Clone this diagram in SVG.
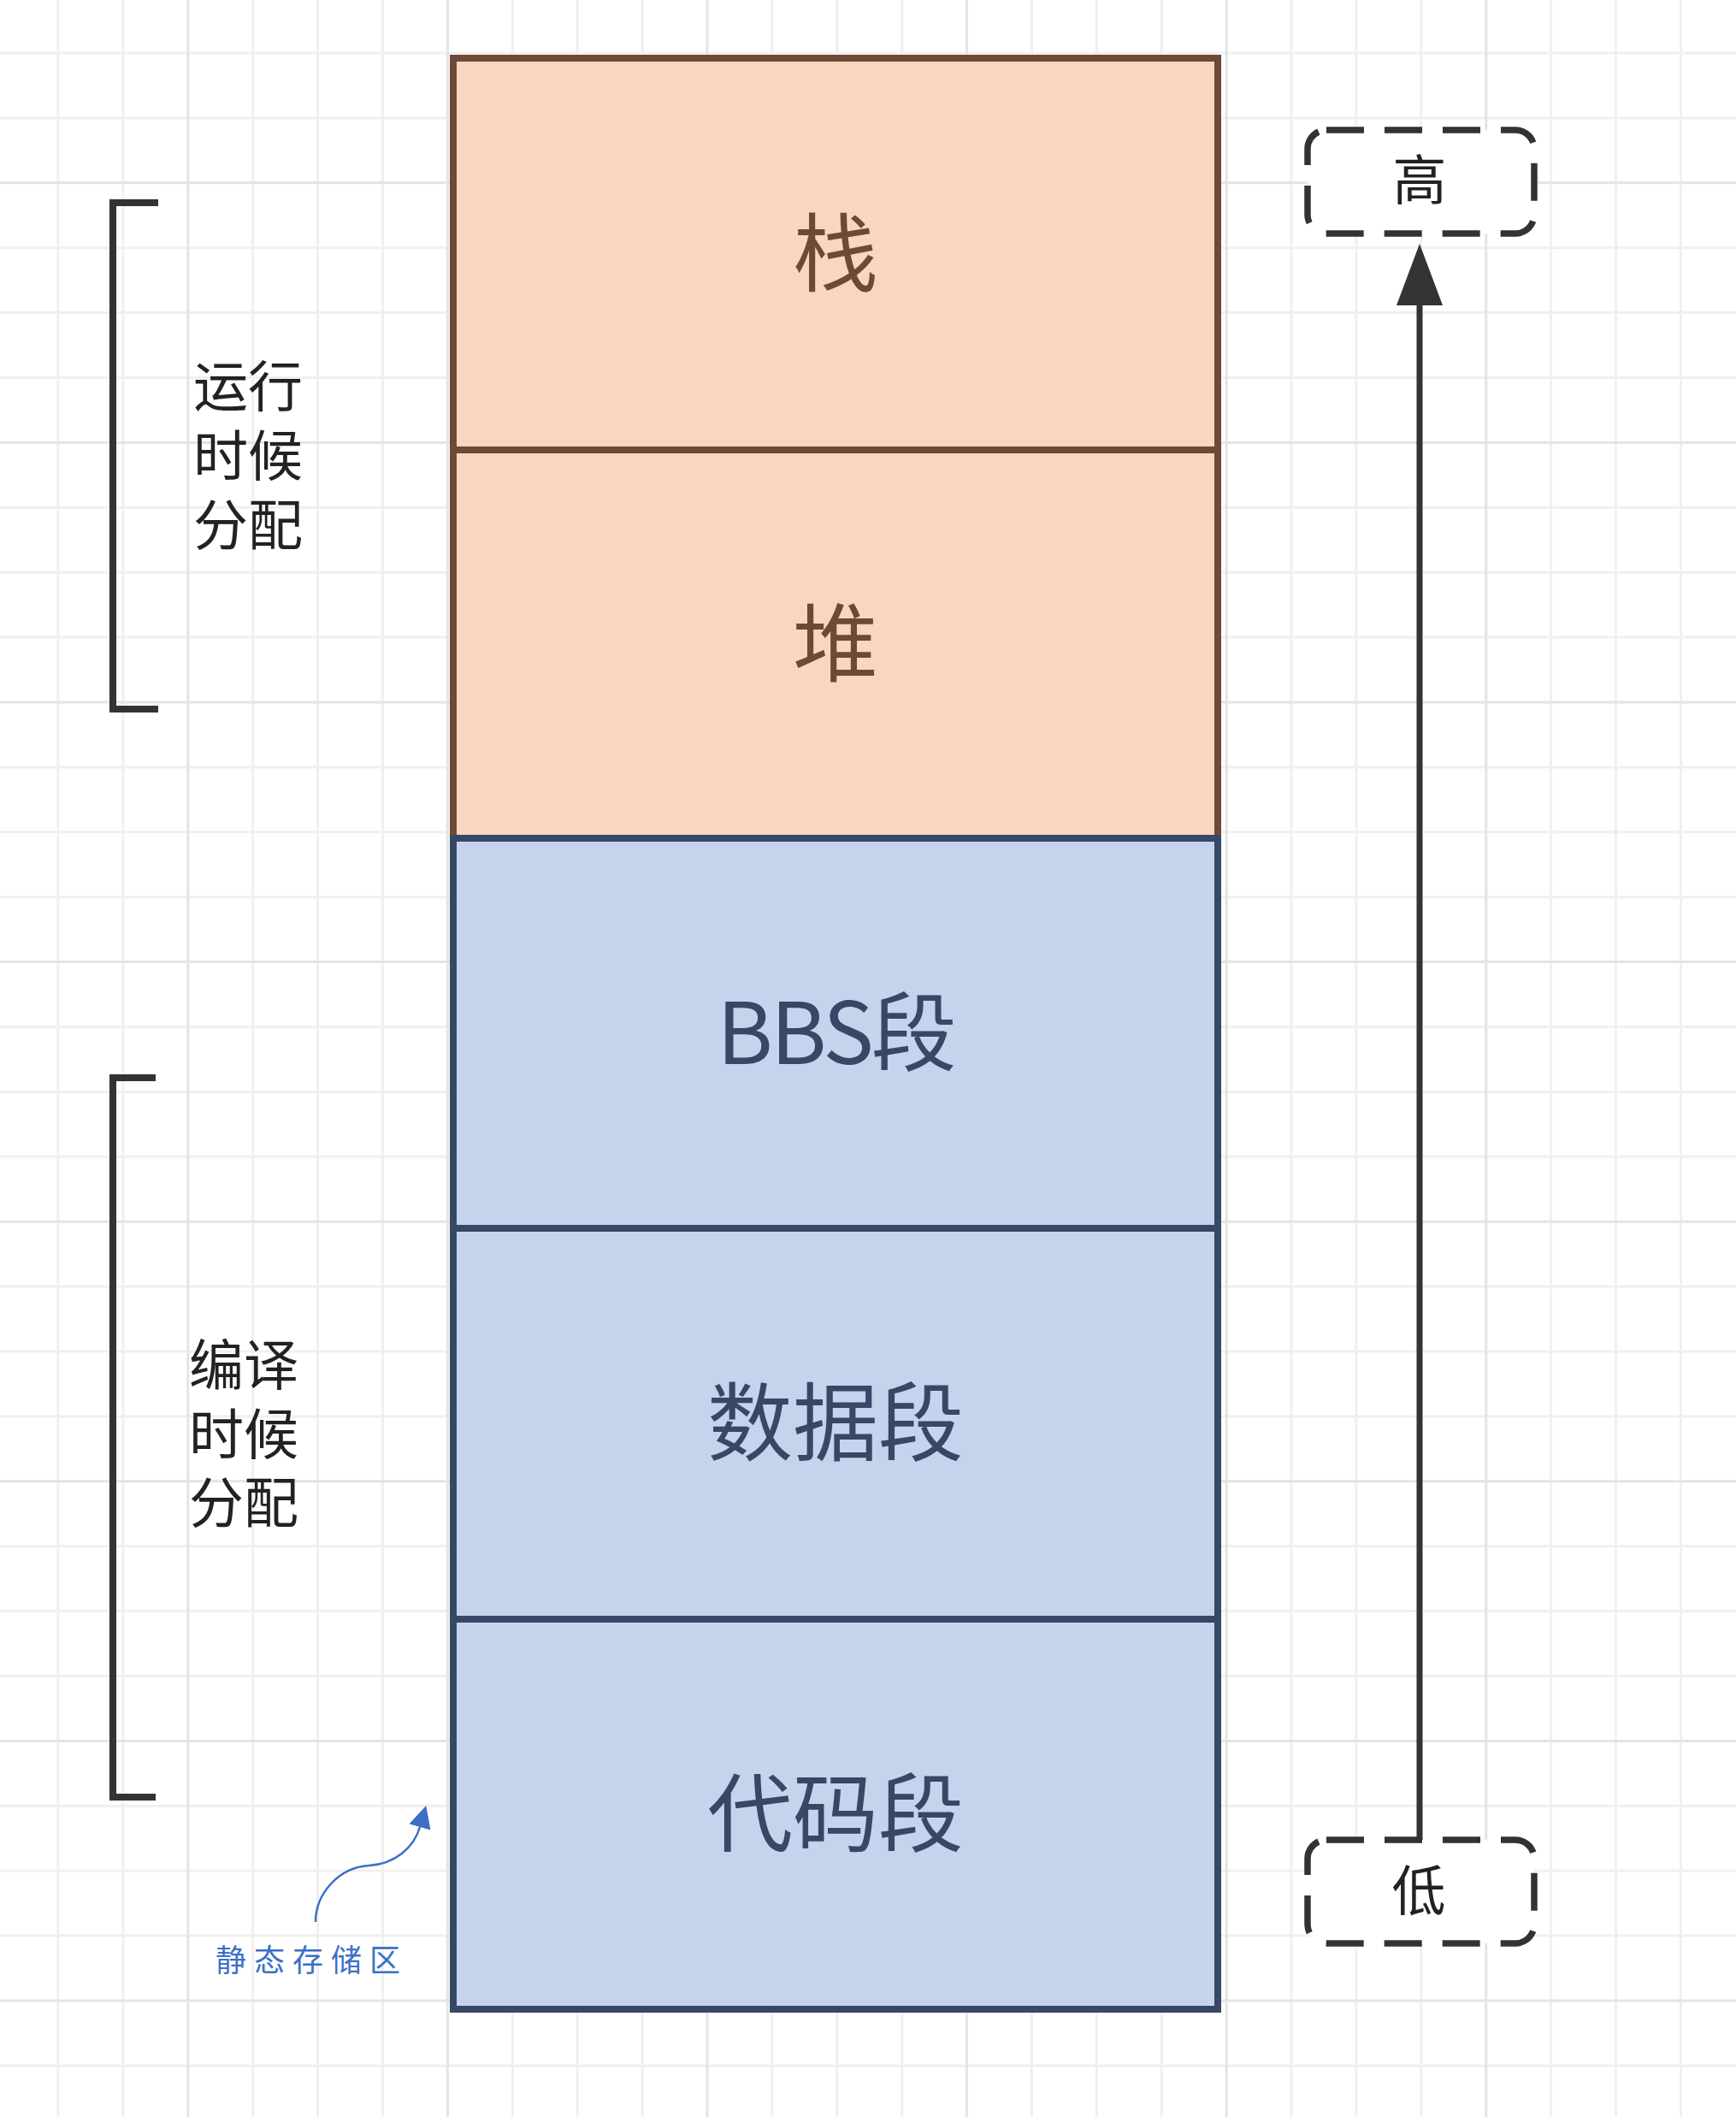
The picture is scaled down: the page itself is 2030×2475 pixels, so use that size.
<svg xmlns="http://www.w3.org/2000/svg" width="2030" height="2475" viewBox="0 0 2030 2475">
  <style>
    .gmin { fill: none; stroke: #f0f0f0; stroke-width: 3; }
    .gmaj { fill: none; stroke: #e4e4e4; stroke-width: 3; }
    .seg-o { fill: #f9d6c1; stroke: #6d4a35; stroke-width: 8; }
    .seg-b { fill: #c6d3ec; stroke: #364866; stroke-width: 8; }
    .lbl { font-family: "Noto Sans CJK SC", "Noto Sans", sans-serif; font-size: 100px; text-anchor: middle; }
    .lo { fill: #6d4a35; }
    .lb { fill: #364866; }
    .side { font-family: "Noto Sans CJK SC", sans-serif; font-size: 64px; fill: #222222; text-anchor: middle; }
    .bracket { fill: none; stroke: #333333; stroke-width: 8; }
    .dbox { fill: #ffffff; stroke: #333333; stroke-width: 7.5; stroke-dasharray: 44 24; }
    .hl { font-family: "Noto Sans CJK SC", sans-serif; font-size: 63px; fill: #222222; text-anchor: middle; }
    .note { font-family: "Noto Sans CJK SC", sans-serif; font-size: 36px; fill: #3d6fc7; letter-spacing: 9px; }
  </style>
  <defs>
    <marker id="arrowDark" markerUnits="userSpaceOnUse" viewBox="0 0 72 54" markerWidth="72" markerHeight="54" refX="0" refY="27" orient="auto">
      <path d="M0,0 L72,27 L0,54 Z" fill="#333333"/>
    </marker>
    <marker id="arrowBlue" markerUnits="userSpaceOnUse" viewBox="0 0 26 26" markerWidth="26" markerHeight="26" refX="0" refY="13" orient="auto">
      <path d="M0,0 L26,13 L0,26 Z" fill="#3d6fc7"/>
    </marker>
  </defs>

  <rect x="0" y="0" width="2030" height="2475" fill="#ffffff"/>

  <g id="grid">
    <path class="gmin" d="M68,0V2475 M143.9,0V2475 M295.7,0V2475 M371.6,0V2475 M447.5,0V2475 M599.3,0V2475 M675.2,0V2475 M751.1,0V2475 M902.9,0V2475 M978.8,0V2475 M1054.7,0V2475 M1206.5,0V2475 M1282.4,0V2475 M1358.3,0V2475 M1510.1,0V2475 M1586,0V2475 M1661.9,0V2475 M1813.7,0V2475 M1889.6,0V2475 M1965.5,0V2475
      M0,62H2030 M0,137.9H2030 M0,289.7H2030 M0,365.6H2030 M0,441.5H2030 M0,593.3H2030 M0,669.2H2030 M0,745.1H2030 M0,896.9H2030 M0,972.8H2030 M0,1048.7H2030 M0,1200.5H2030 M0,1276.4H2030 M0,1352.3H2030 M0,1504.1H2030 M0,1580H2030 M0,1655.9H2030 M0,1807.7H2030 M0,1883.6H2030 M0,1959.5H2030 M0,2111.3H2030 M0,2187.2H2030 M0,2263.1H2030 M0,2414.9H2030"/>
    <path class="gmaj" d="M219.8,0V2475 M523.4,0V2475 M827,0V2475 M1130.6,0V2475 M1434.2,0V2475 M1737.8,0V2475
      M0,213.8H2030 M0,517.4H2030 M0,821H2030 M0,1124.6H2030 M0,1428.2H2030 M0,1731.8H2030 M0,2035.4H2030 M0,2339H2030"/>
  </g>

  <g id="node-stack">
    <rect class="seg-o" x="530" y="68" width="894" height="458"/>
    <text class="lbl lo" x="977" y="333">栈</text>
  </g>
  <g id="node-heap">
    <rect class="seg-o" x="530" y="526" width="894" height="454"/>
    <text class="lbl lo" x="977" y="789">堆</text>
  </g>
  <g id="node-bbs">
    <rect class="seg-b" x="530" y="980" width="894" height="456"/>
    <text class="lbl lb" x="977" y="1244" letter-spacing="-3">BBS段</text>
  </g>
  <g id="node-data">
    <rect class="seg-b" x="530" y="1436" width="894" height="457"/>
    <text class="lbl lb" x="977" y="1700">数据段</text>
  </g>
  <g id="node-code">
    <rect class="seg-b" x="530" y="1893" width="894" height="456"/>
    <text class="lbl lb" x="977" y="2157">代码段</text>
  </g>

  <g id="node-runtime">
    <path class="bracket" d="M185,237 H132 V829 H185"/>
    <text class="side"><tspan x="290" y="475">运行</tspan><tspan x="290" y="556">时候</tspan><tspan x="290" y="637">分配</tspan></text>
  </g>

  <g id="node-compile">
    <path class="bracket" d="M182,1260 H132 V2101 H182"/>
    <text class="side"><tspan x="285" y="1619">编译</tspan><tspan x="285" y="1700">时候</tspan><tspan x="285" y="1780">分配</tspan></text>
  </g>

  <g id="node-high">
    <rect class="dbox" x="1529" y="152" width="265" height="121" rx="22" ry="22"/>
    <text class="hl" x="1660" y="233">高</text>
  </g>
  <g id="node-low">
    <rect class="dbox" x="1529" y="2151" width="265" height="121" rx="22" ry="22"/>
    <text class="hl" x="1659" y="2233">低</text>
  </g>

  <g id="node-static-note">
    <text class="note" x="252" y="2305">静态存储区</text>
  </g>

  <g id="connectors">
    <line x1="1660" y1="2151" x2="1660" y2="357" stroke="#333333" stroke-width="7" marker-end="url(#arrowDark)"/>
    <path d="M369,2247 C369,2215 395,2183 432,2181 C462,2179 484,2160 491,2136" fill="none" stroke="#3d6fc7" stroke-width="2.5" marker-end="url(#arrowBlue)"/>
  </g>
</svg>
